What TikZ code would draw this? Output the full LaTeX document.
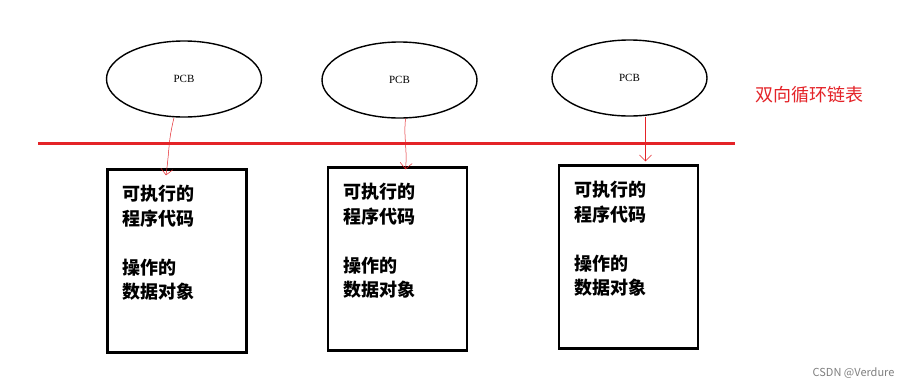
\documentclass[tikz,border=0pt]{standalone}
\usepackage{fontspec}
\setmainfont{Liberation Serif}
\newfontfamily\cjk{Noto Sans CJK SC}
\usetikzlibrary{shapes.geometric,positioning,arrows.meta}
\definecolor{listred}{RGB}{228,35,40}

\begin{document}
\begin{tikzpicture}[x=1pt,y=-1pt,>={Straight Barb[length=6pt,width=12pt]},
  pcb/.style={ellipse,draw,line width=1.4pt,minimum width=155pt,minimum height=76pt,
    inner sep=0pt,font=\fontsize{11}{13}\selectfont},
  codebox/.style={draw,line width=2.4pt,minimum width=139pt,minimum height=183pt,inner sep=0pt},
  boxtext/.style={align=left,inner sep=0pt,font=\cjk\bfseries\fontsize{18}{24.5}\selectfont},
  link/.style={->,listred,line width=0.5pt}]
  \useasboundingbox[fill=white] (0,0) rectangle (914,389);
  % process control blocks
  \node[pcb] (e1) at (184,79) {PCB};
  \node[pcb] (e2) at (399.5,80) {PCB};
  \node[pcb] (e3) at (629.5,78) {PCB};
  % the list
  \coordinate (l0) at (38,143);
  \coordinate (l1) at (735,143);
  \draw[listred,line width=3pt] (l0) -- (l1);
  \node[text=listred,font=\cjk\fontsize{18}{20}\selectfont] (title) at (809,95) {双向循环链表};
  % program bodies
  \node[codebox] (b1) at (177,261) {};
  \node[codebox] (b2) at (397.5,259) {};
  \node[codebox] (b3) at (628.5,257) {};
  \foreach \b in {b1,b2,b3}
    \node[boxtext,below right=17pt and 16pt of \b.north west] (t\b)
      {可执行的\\程序代码\\[24.5pt]操作的\\数据对象};
  \draw[link] ([xshift=-10pt]e1.south) .. controls +(-6,25) and +(4,-30) .. ([xshift=-11pt,yshift=-7pt]b1.north);
  \draw[link] ([xshift=6pt]e2.south) .. controls +(-2,20) and +(2,-20) .. ([xshift=8pt,yshift=-3pt]b2.north);
  \draw[link] ([xshift=16pt]e3.south) -- ([xshift=17pt,yshift=3pt]b3.north);
  \node[text=black!50,anchor=east,font=\cjk\fontsize{11}{13}\selectfont] (mark) at (898,373) {CSDN @Verdure};
\end{tikzpicture}
\end{document}
